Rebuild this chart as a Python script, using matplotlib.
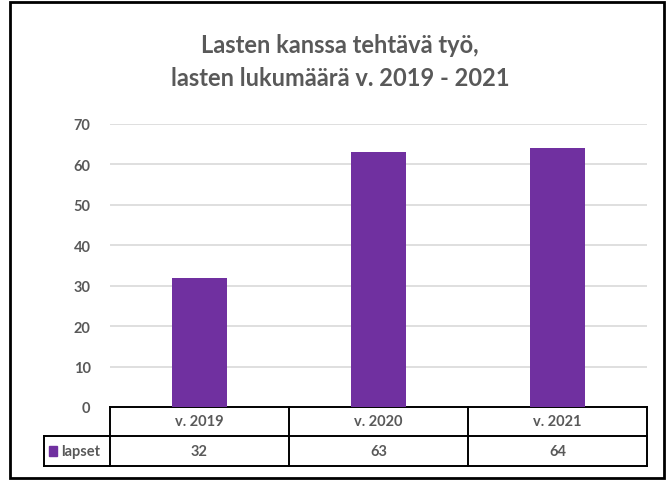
import matplotlib.pyplot as plt
from matplotlib.patches import Rectangle
from matplotlib.lines import Line2D

categories = ["v. 2019", "v. 2020", "v. 2021"]
values = [32, 63, 64]
series_name = "lapset"
title = "Lasten kanssa tehtävä työ,\nlasten lukumäärä v. 2019 - 2021"

BAR = "#7030A0"
TXT = "#595959"
plt.rcParams["font.family"] = ["Lato", "DejaVu Sans"]

fig = plt.figure(figsize=(6.7, 4.81), dpi=100)
W, H = 670, 481
ax = fig.add_axes([110 / W, 73 / H, 537 / W, 283 / H])

x = list(range(len(categories)))
ax.bar(x, values, width=0.31, color=BAR, zorder=3)
ax.set_xlim(-0.5, len(categories) - 0.5)
ax.set_ylim(0, 70)
ax.set_yticks(range(0, 71, 10))
ax.yaxis.grid(True, color="#D9D9D9", linewidth=1.2, zorder=0)
ax.tick_params(axis="y", length=0, pad=14, labelsize=10.5, labelcolor=TXT)
for lbl in ax.get_yticklabels():
    lbl.set_fontweight("bold")
ax.set_xticks([])
for s in ax.spines.values():
    s.set_visible(False)

# data table below the plot, in axes coordinates
px = 1 / 283
r1 = -29 * px
r2 = -59 * px
xl = (44 - 110) / 537
tr = ax.transAxes
lw = 1.4
def line(xs, ys):
    ax.add_line(Line2D(xs, ys, transform=tr, color="black", lw=lw, clip_on=False))

line([0, 1], [0, 0])
line([xl, 1], [r1, r1])
line([xl, 1], [r2, r2])
line([xl, xl], [r1, r2])
n = len(categories)
for i in range(n + 1):
    line([i / n, i / n], [0, r2])

for i, (c, v) in enumerate(zip(categories, values)):
    xc = (i + 0.5) / n
    ax.text(xc, r1 / 2, c, transform=tr, ha="center", va="center",
            fontsize=10.5, fontweight="bold", color=TXT)
    ax.text(xc, (r1 + r2) / 2, str(v), transform=tr, ha="center", va="center",
            fontsize=10.5, fontweight="bold", color=TXT)

ym = (r1 + r2) / 2
ax.add_patch(Rectangle((xl + 0.010, ym - 5 * px), 8 / 537, 10 * px,
                       transform=tr, color=BAR, clip_on=False))
ax.text(xl + 0.032, ym, series_name, transform=tr, ha="left", va="center",
        fontsize=10.5, fontweight="bold", color=TXT)

fig.text(340 / W, 1 - 62 / H, title, ha="center", va="center", fontsize=17,
         color=TXT, fontweight="bold", linespacing=1.55)

fig.add_artist(Rectangle((10 / W, 2 / H), 654 / W, 476 / H, transform=fig.transFigure,
                         fill=False, edgecolor="black", linewidth=2))

fig.savefig("out.png", dpi=100)
